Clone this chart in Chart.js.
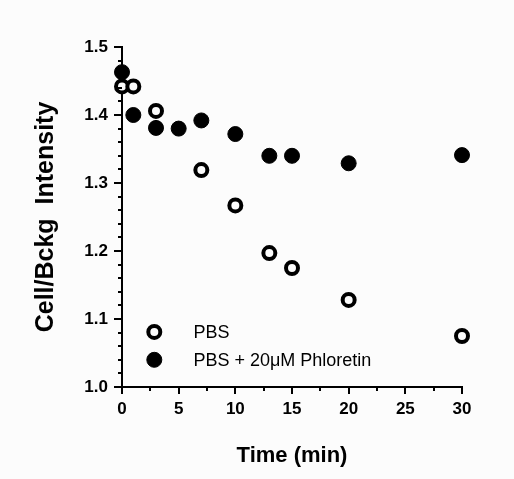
<!DOCTYPE html>
<html>
<head>
<meta charset="utf-8">
<script src="https://cdn.jsdelivr.net/npm/chart.js@4"></script>
<style>
  html, body { margin: 0; padding: 0; background: #fcfcfc; }
  #wrap { width: 514px; height: 479px; }
</style>
</head>
<body>
<div id="wrap"><canvas id="c" width="514" height="479"></canvas></div>
<script>
// Data
const seriesNames = ['PBS', 'PBS + 20\u03BCM Phloretin'];
const pbsTime = [0, 1, 3, 7, 10, 13, 15, 20, 30];
const pbsValues = [1.442, 1.442, 1.406, 1.319, 1.267, 1.197, 1.175, 1.128, 1.075];
const phlTime = [0, 1, 3, 5, 7, 10, 13, 15, 20, 30];
const phlValues = [1.463, 1.400, 1.381, 1.380, 1.392, 1.372, 1.340, 1.340, 1.329, 1.341];
const xTicks = [0, 5, 10, 15, 20, 25, 30];
const yTicks = [1.0, 1.1, 1.2, 1.3, 1.4, 1.5];
const xMinorTicks = [2.5, 7.5, 12.5, 17.5, 22.5, 27.5];
const yMinorTicks = [1.02,1.04,1.06,1.08,1.12,1.14,1.16,1.18,1.22,1.24,1.26,1.28,1.32,1.34,1.36,1.38,1.42,1.44,1.46,1.48];
const xTitle = 'Time (min)';
const yTitle = 'Cell/Bckg  Intensity';

const BG = '#fcfcfc';
const toPts = (xs, ys) => xs.map((x, i) => ({x: x, y: ys[i]}));

const minorTicksPlugin = {
  id: 'minorTicks',
  afterDraw(chart) {
    const ctx = chart.ctx;
    const xs = chart.scales.x, ys = chart.scales.y;
    const area = chart.chartArea;
    ctx.save();
    ctx.strokeStyle = '#000';
    ctx.lineWidth = 2;
    ctx.beginPath();
    yMinorTicks.forEach(v => {
      const p = Math.round(ys.getPixelForValue(v));
      ctx.moveTo(area.left - 4, p);
      ctx.lineTo(area.left, p);
    });
    xMinorTicks.forEach(v => {
      const p = Math.round(xs.getPixelForValue(v));
      ctx.moveTo(p, area.bottom);
      ctx.lineTo(p, area.bottom + 4);
    });
    ctx.stroke();
    ctx.restore();
  }
};

const insideLegendPlugin = {
  id: 'insideLegend',
  afterDraw(chart) {
    const ctx = chart.ctx;
    const xs = chart.scales.x, ys = chart.scales.y;
    // anchor legend in data space
    const mx = xs.getPixelForValue(2.85);
    const tx = xs.getPixelForValue(6.3);
    const rows = [ys.getPixelForValue(1.081), ys.getPixelForValue(1.040)];
    ctx.save();
    chart.data.datasets.forEach((ds, i) => {
      const y = rows[i];
      ctx.beginPath();
      ctx.arc(mx, y, ds.pointRadius, 0, Math.PI * 2);
      ctx.fillStyle = ds.pointBackgroundColor;
      ctx.fill();
      ctx.lineWidth = ds.pointBorderWidth;
      ctx.strokeStyle = ds.pointBorderColor;
      ctx.stroke();
      ctx.fillStyle = '#000';
      ctx.font = '18px "Liberation Sans", Arial, sans-serif';
      ctx.textBaseline = 'middle';
      ctx.textAlign = 'left';
      ctx.fillText(ds.label, tx, y + 1);
    });
    ctx.restore();
  }
};

const bgPlugin = {
  id: 'bg',
  beforeDraw(chart) {
    const ctx = chart.ctx;
    ctx.save();
    ctx.fillStyle = BG;
    ctx.fillRect(0, 0, chart.width, chart.height);
    ctx.restore();
  }
};

new Chart(document.getElementById('c'), {
  type: 'scatter',
  data: {
    datasets: [
      {
        label: seriesNames[0],
        data: toPts(pbsTime, pbsValues),
        pointRadius: 6,
        pointHoverRadius: 6,
        pointBorderWidth: 4,
        pointBorderColor: '#000',
        pointBackgroundColor: BG,
        clip: false
      },
      {
        label: seriesNames[1],
        data: toPts(phlTime, phlValues),
        pointRadius: 7.5,
        pointHoverRadius: 7.5,
        pointBorderWidth: 1,
        pointBorderColor: '#000',
        pointBackgroundColor: '#000',
        clip: false
      }
    ]
  },
  options: {
    responsive: false,
    animation: false,
    events: [],
    layout: { padding: { left: 0, top: 47, right: 52, bottom: 0 } },
    plugins: {
      legend: { display: false },
      tooltip: { enabled: false }
    },
    scales: {
      x: {
        type: 'linear',
        min: 0, max: 30,
        afterBuildTicks(scale) { scale.ticks = xTicks.map(v => ({value: v})); },
        afterFit(scale) { scale.height = 92; },
        border: { display: true, color: '#000', width: 2 },
        grid: { drawOnChartArea: false, drawTicks: true, tickLength: 7, tickColor: '#000', tickWidth: 2, lineWidth: 2, color: '#000' },
        ticks: {
          color: '#000', padding: 5,
          font: { family: '"Liberation Sans", Arial, sans-serif', size: 17, weight: 'bold' },
          callback: v => String(v)
        },
        title: {
          display: true, text: xTitle, color: '#000',
          font: { family: '"Liberation Sans", Arial, sans-serif', size: 22, weight: 'bold' },
          padding: { top: 0, bottom: 10 }
        }
      },
      y: {
        type: 'linear',
        min: 1.0, max: 1.5,
        afterBuildTicks(scale) { scale.ticks = yTicks.map(v => ({value: v})); },
        afterFit(scale) { scale.width = 122; },
        border: { display: true, color: '#000', width: 2 },
        grid: { drawOnChartArea: false, drawTicks: true, tickLength: 8, tickColor: '#000', tickWidth: 2, lineWidth: 2, color: '#000' },
        ticks: {
          color: '#000', padding: 6,
          font: { family: '"Liberation Sans", Arial, sans-serif', size: 17, weight: 'bold' },
          callback: v => Number(v).toFixed(1)
        },
        title: {
          display: true, text: yTitle, color: '#000',
          font: { family: '"Liberation Sans", Arial, sans-serif', size: 25, weight: 'bold' },
          padding: { top: 31, bottom: 0 }
        }
      }
    }
  },
  plugins: [bgPlugin, minorTicksPlugin, insideLegendPlugin]
});
</script>
</body>
</html>
